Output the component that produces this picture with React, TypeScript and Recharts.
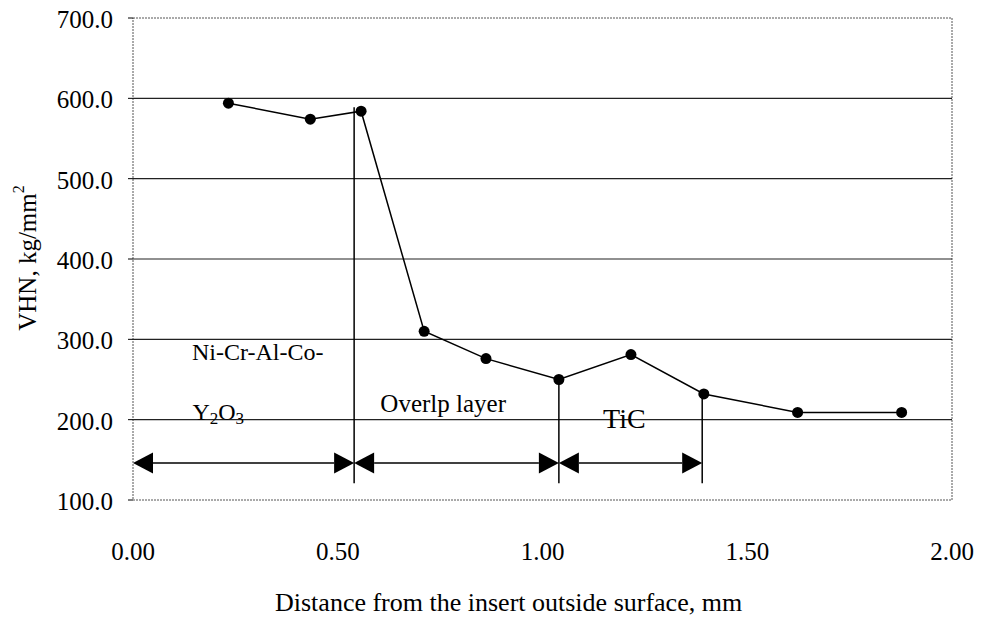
import { LineChart, Line, XAxis, YAxis, ReferenceLine, ReferenceArea, ReferenceDot } from 'recharts'

// distance from outside surface (mm) vs. hardness (VHN)
const distance = [0.233, 0.433, 0.557, 0.711, 0.862, 1.04, 1.216, 1.394, 1.623, 1.877]
const hardness = [594, 574, 584, 310, 276, 250, 281, 232, 209, 209]

const xTicks = [0, 0.5, 1, 1.5, 2]
const yTicks = [100, 200, 300, 400, 500, 600, 700]

// zone boundaries along x, and where each boundary line starts (top, in VHN)
const zoneBounds = [0, 0.54, 1.04, 1.39]
const boundaryTops = [589, 250, 232]
const boundaryBottom = 121
const arrowLevel = 146

const data = distance.map((d, i) => ({ x: d, y: hardness[i] }))

const FONT = '"Liberation Serif", "Times New Roman", serif'

const XTick = (p: any) => (
    <text x={p.x} y={p.y + 60} textAnchor="middle" fontFamily={FONT} fontSize={25} fill="#000">
        {Number(p.payload.value).toFixed(2)}
    </text>
)

const YTick = (p: any) => (
    <text x={p.x} y={p.y + 10} textAnchor="end" fontFamily={FONT} fontSize={25} fill="#000">
        {Number(p.payload.value).toFixed(1)}
    </text>
)

// line with filled triangle heads at both ends
const DoubleArrow = (p: any) => {
    const { x1, y1, x2, y2 } = p
    const len = 20
    const half = 10.5
    const left = Math.min(x1, x2)
    const right = Math.max(x1, x2)
    const y = y1
    return (
        <g>
            <line x1={left + len} y1={y} x2={right - len} y2={y2} stroke="#000" strokeWidth={1.5} />
            <polygon points={`${left},${y} ${left + len},${y - half} ${left + len},${y + half}`} fill="#000" />
            <polygon points={`${right},${y} ${right - len},${y - half} ${right - len},${y + half}`} fill="#000" />
        </g>
    )
}

const textAt = (content: any, size: number) => (p: any) => (
    <text x={p.cx} y={p.cy} fontFamily={FONT} fontSize={size} fill="#000">
        {content}
    </text>
)

export default function App() {
    return (
        <div style={{ position: 'absolute', left: 0, top: 0, background: '#fff' }}>
            <LineChart width={982} height={618} data={data}
                margin={{ top: 18, right: 30, left: 0, bottom: 0 }}>
                <XAxis dataKey="x" type="number" domain={[0, 2]} ticks={xTicks}
                    height={118} tickSize={0} tickMargin={0}
                    axisLine={false} tickLine={false} tick={XTick}
                    label={{
                        content: () => (
                            <text x={275} y={611} fontFamily={FONT} fontSize={26} fill="#000">
                                Distance from the insert outside surface, mm
                            </text>
                        )
                    }} />
                <YAxis type="number" domain={[100, 700]} ticks={yTicks}
                    width={133} tickSize={5} tickMargin={15}
                    axisLine={false} tickLine={{ stroke: '#000' }} tick={YTick}
                    label={{
                        content: () => (
                            <text x={36} y={258} transform="rotate(-90, 36, 258)"
                                textAnchor="middle" fontFamily={FONT} fontSize={25} fill="#000">
                                VHN, kg/mm<tspan fontSize={16} dy={-12}>2</tspan>
                            </text>
                        )
                    }} />

                {yTicks.slice(1, -1).map((v) => (
                    <ReferenceLine key={`g-${v}`} y={v} stroke="#222" strokeWidth={1.2} />
                ))}
                <ReferenceArea x1={0} x2={2} y1={100} y2={700} fill="none" fillOpacity={0}
                    stroke="#555" strokeDasharray="2 1" strokeWidth={1} />

                {boundaryTops.map((top, i) => (
                    <ReferenceLine key={`b-${i}`}
                        segment={[{ x: zoneBounds[i + 1], y: top }, { x: zoneBounds[i + 1], y: boundaryBottom }]}
                        stroke="#000" strokeWidth={1.5} />
                ))}
                {boundaryTops.map((_, i) => (
                    <ReferenceLine key={`a-${i}`}
                        segment={[{ x: zoneBounds[i], y: arrowLevel }, { x: zoneBounds[i + 1], y: arrowLevel }]}
                        shape={DoubleArrow} />
                ))}

                <ReferenceDot x={0.144} y={274} r={1} shape={textAt('Ni-Cr-Al-Co-', 24)} />
                <ReferenceDot x={0.145} y={199} r={1}
                    shape={textAt(<>Y<tspan fontSize={17} dy={4}>2</tspan><tspan dy={-4}>O</tspan><tspan fontSize={17} dy={4}>3</tspan></>, 24)} />
                <ReferenceDot x={0.604} y={209} r={1} shape={textAt('Overlp layer', 25)} />
                <ReferenceDot x={1.148} y={190} r={1} shape={textAt('TiC', 28)} />

                <Line dataKey="y" type="linear" stroke="#000" strokeWidth={1.5}
                    dot={{ r: 5.5, fill: '#000', stroke: '#000', strokeWidth: 0 }}
                    activeDot={false} isAnimationActive={false} />
            </LineChart>
        </div>
    )
}
